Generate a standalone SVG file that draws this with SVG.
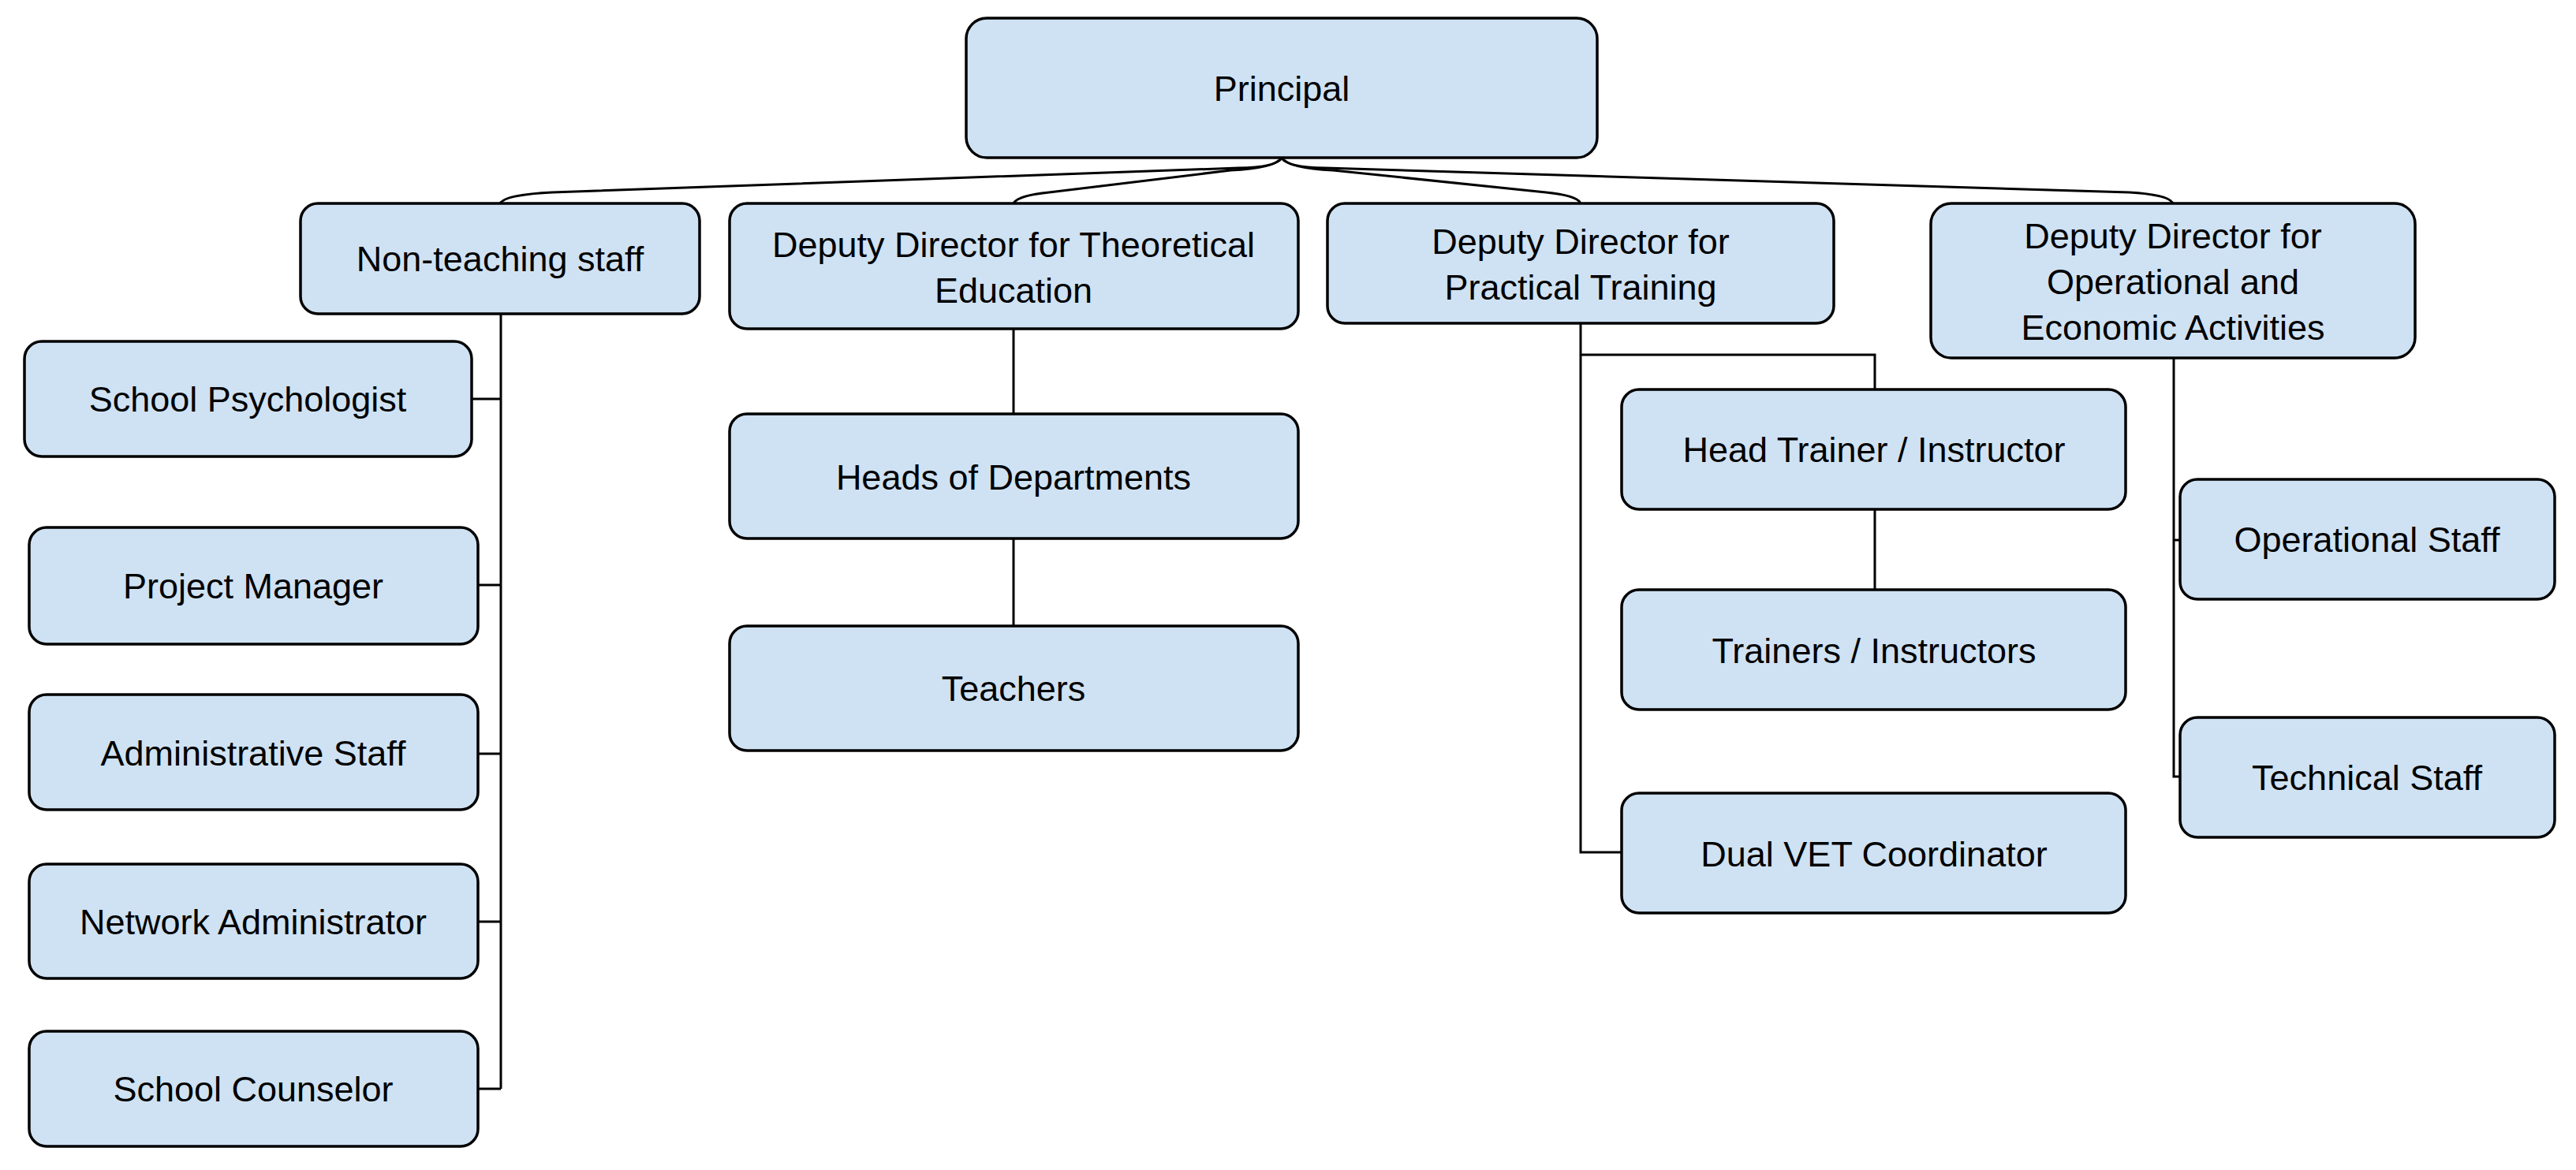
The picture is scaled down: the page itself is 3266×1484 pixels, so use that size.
<svg xmlns="http://www.w3.org/2000/svg" width="3266" height="1484" viewBox="0 0 3266 1484">
<style>
.n rect{fill:#cfe2f3;stroke:#000;stroke-width:3.5}
.n text{font-family:"Liberation Sans",Arial,sans-serif;font-size:45px;fill:#000;text-anchor:middle;dominant-baseline:central}
.c path{fill:none;stroke:#000;stroke-width:3}
</style>
<rect width="3266" height="1484" fill="#fff"/>
<g class="c" id="connectors">
<path d="M1625 200 Q1620 212 1570 213 L700 244 Q640 247 634 258"/>
<path d="M1625 200 Q1615 214 1560 216 L1330 244 Q1290 248 1285 258"/>
<path d="M1625 200 Q1635 214 1690 216 L1960 244 Q2000 248 2004 258"/>
<path d="M1625 200 Q1630 212 1680 213 L2700 244 Q2750 247 2755 258"/>
<path d="M635 398 V1381 M598 506 H635 M606 742 H635 M606 956 H635 M606 1169 H635 M606 1381 H635"/>
<path d="M1285 417 V525 M1285 683 V794"/>
<path d="M2004 410 V1081 H2056 M2004 450 H2377 V494 M2377 646 V748"/>
<path d="M2756 454 V985 H2764 M2756 685 H2764"/>
</g>
<g class="n" id="principal"><rect x="1225" y="23" width="800" height="177" rx="26"/><text x="1625" y="112">Principal</text></g>
<g class="n" id="nonteaching"><rect x="381" y="258" width="506" height="140" rx="22"/><text x="634" y="328">Non-teaching staff</text></g>
<g class="n" id="dd-theoretical"><rect x="925" y="258" width="721" height="159" rx="22"/><text x="1285" y="310">Deputy Director for Theoretical</text><text x="1285" y="368">Education</text></g>
<g class="n" id="dd-practical"><rect x="1683" y="258" width="642" height="152" rx="22"/><text x="2004" y="306">Deputy Director for</text><text x="2004" y="364">Practical Training</text></g>
<g class="n" id="dd-operational"><rect x="2448" y="258" width="614" height="196" rx="26"/><text x="2755" y="299">Deputy Director for</text><text x="2755" y="357">Operational and</text><text x="2755" y="415">Economic Activities</text></g>
<g class="n" id="psychologist"><rect x="31" y="433" width="567" height="146" rx="22"/><text x="314" y="506">School Psychologist</text></g>
<g class="n" id="project-manager"><rect x="37" y="669" width="569" height="148" rx="22"/><text x="321" y="743">Project Manager</text></g>
<g class="n" id="admin-staff"><rect x="37" y="881" width="569" height="146" rx="22"/><text x="321" y="955">Administrative Staff</text></g>
<g class="n" id="network-admin"><rect x="37" y="1096" width="569" height="145" rx="22"/><text x="321" y="1169">Network Administrator</text></g>
<g class="n" id="counselor"><rect x="37" y="1308" width="569" height="146" rx="22"/><text x="321" y="1381">School Counselor</text></g>
<g class="n" id="heads"><rect x="925" y="525" width="721" height="158" rx="22"/><text x="1285" y="605">Heads of Departments</text></g>
<g class="n" id="teachers"><rect x="925" y="794" width="721" height="158" rx="22"/><text x="1285" y="873">Teachers</text></g>
<g class="n" id="head-trainer"><rect x="2056" y="494" width="639" height="152" rx="22"/><text x="2376" y="570">Head Trainer / Instructor</text></g>
<g class="n" id="trainers"><rect x="2056" y="748" width="639" height="152" rx="22"/><text x="2376" y="825">Trainers / Instructors</text></g>
<g class="n" id="dual-vet"><rect x="2056" y="1006" width="639" height="152" rx="22"/><text x="2376" y="1083">Dual VET Coordinator</text></g>
<g class="n" id="operational-staff"><rect x="2764" y="608" width="475" height="152" rx="22"/><text x="3001" y="684">Operational Staff</text></g>
<g class="n" id="technical-staff"><rect x="2764" y="910" width="475" height="152" rx="22"/><text x="3001" y="986">Technical Staff</text></g>
</svg>
